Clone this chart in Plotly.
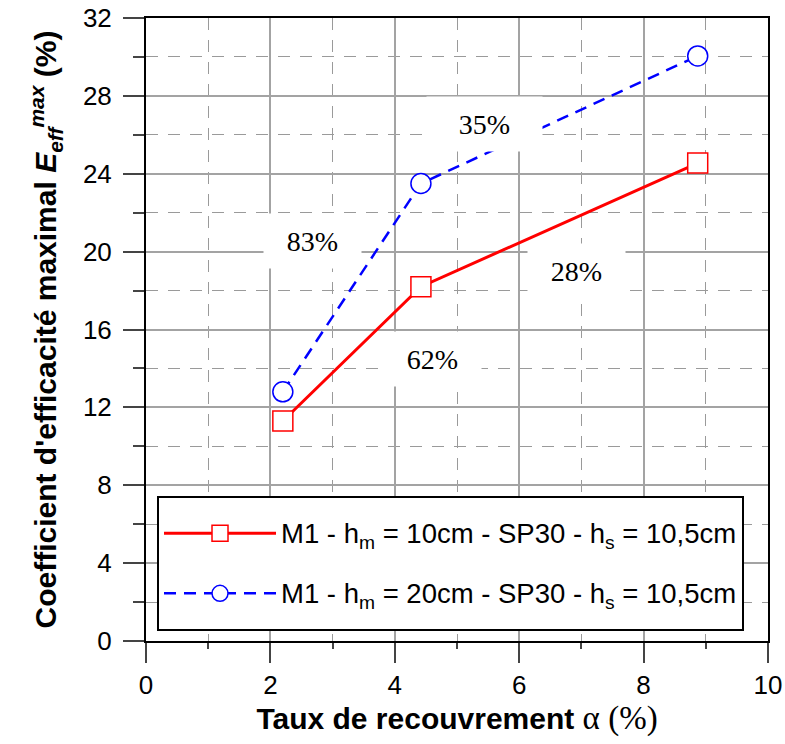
import plotly.graph_objects as go

# Coverage rate alpha (%) and maximal efficiency coefficient (%)
alpha_h10 = [2.2, 4.42, 8.87]
eff_h10 = [11.3, 18.2, 24.55]
alpha_h20 = [2.2, 4.42, 8.87]
eff_h20 = [12.8, 23.5, 30.05]

name_h10 = "M1 - h<sub>m</sub> = 10cm - SP30 - h<sub>s</sub> = 10,5cm"
name_h20 = "M1 - h<sub>m</sub> = 20cm - SP30 - h<sub>s</sub> = 10,5cm"

# Gain labels between successive points
gain_text = ["83%", "35%", "28%", "62%"]
gain_x = [2.68, 5.44, 6.92, 4.61]
gain_y = [20.54, 26.53, 18.98, 14.48]
gain_w = [95, 113, 95, 95]

SANS = "Liberation Sans, Arial, sans-serif"
SERIF = "Liberation Serif, Times New Roman, serif"


def legend_label(name):
    # legend rows are sized from the legend font; the label itself is smaller
    # and lifted back onto the row's centre line
    return ('<span style="font-size:27.5px;baseline-shift:7px">'
            + name + "</span>")


fig = go.Figure()
fig.add_trace(go.Scatter(
    x=alpha_h10, y=eff_h10, name=legend_label(name_h10), legendgroup="a",
    mode="lines+markers",
    line=dict(color="#ff0000", width=3),
    marker=dict(symbol="square", size=20, color="white",
                line=dict(color="#ff0000", width=1.5)),
))
fig.add_trace(go.Scatter(
    x=alpha_h20, y=eff_h20, name=legend_label(name_h20), legendgroup="b",
    mode="lines+markers",
    line=dict(color="#0000ff", width=2.5, dash="12px,8px"),
    marker=dict(symbol="circle", size=20, color="white",
                line=dict(color="#0000ff", width=1.5)),
))

for t, x, y, w in zip(gain_text, gain_x, gain_y, gain_w):
    fig.add_annotation(
        x=x, y=y, text=t, showarrow=False,
        font=dict(family=SERIF, size=28, color="black"),
        bgcolor="white", width=w, height=52, borderpad=1,
    )

grid_major = "#a3a3a3"
grid_minor = "#9a9a9a"

common = dict(
    showline=True, mirror=True, linecolor="black", linewidth=2,
    ticks="outside", tickcolor="#444", tickwidth=1.5,
    showgrid=True, gridcolor=grid_major, gridwidth=1.5,
    zeroline=False, automargin=False,
    tickfont=dict(family=SANS, size=26, color="black"),
)

fig.update_xaxes(
    range=[0, 10], tick0=0, dtick=2, ticklen=20,
    minor=dict(dtick=1, ticks="outside", ticklen=6, tickcolor="#444",
               showgrid=True, gridcolor=grid_minor, gridwidth=1.2,
               griddash="12px,10px"),
    title=dict(
        text='<b>Taux de recouvrement</b> <span style="font-family:Liberation Serif;font-size:33px">α (%)</span>',
        font=dict(family=SANS, size=30, color="black"), standoff=8),
    **common,
)
fig.update_yaxes(
    range=[0, 32], tick0=0, dtick=4, ticklen=21,
    ticklabelstandoff=6,
    minor=dict(dtick=2, ticks="outside", ticklen=11, tickcolor="#444",
               showgrid=True, gridcolor=grid_minor, gridwidth=1.2,
               griddash="12px,10px"),
    title=dict(
        text="<b>Coefficient d'efficacité maximal <i>E</i><sub><i>eff</i></sub><sup><i>max</i></sup> (%)</b>",
        font=dict(family=SANS, size=30, color="black"), standoff=17),
    **common,
)

fig.update_layout(
    width=785, height=744,
    margin=dict(l=146, r=17, t=18, b=103, autoexpand=False),
    plot_bgcolor="white", paper_bgcolor="white",
    legend=dict(
        x=0.0177, y=0.2327, xanchor="left", yanchor="top",
        bgcolor="white", bordercolor="black", borderwidth=2,
        font=dict(family=SANS, size=44, color="black"),
        itemwidth=112, tracegroupgap=0, traceorder="grouped",
    ),
    showlegend=True,
)

fig.write_html("out.html")
